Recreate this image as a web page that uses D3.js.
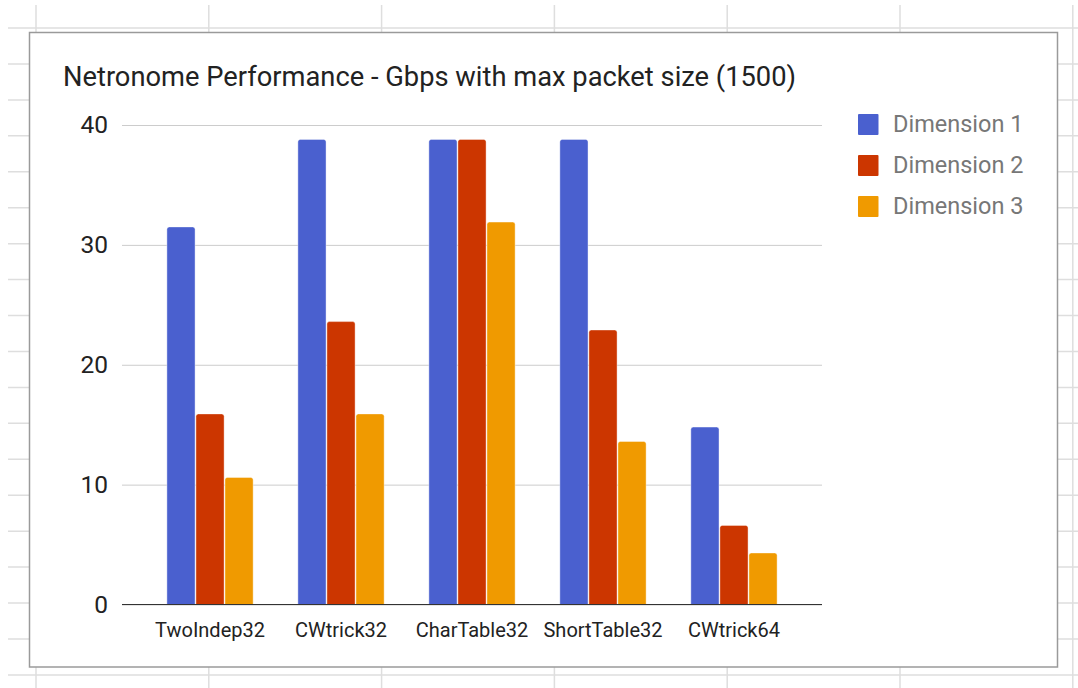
<!DOCTYPE html>
<html>
<head>
<meta charset="utf-8">
<script src="https://cdn.jsdelivr.net/npm/d3@7"></script>
<style>
  html, body { margin: 0; padding: 0; background: #fff; }
  svg { display: block; font-family: Roboto, "Noto Sans", Arial, sans-serif; }
</style>
</head>
<body>
<svg id="chart" width="1078" height="688"></svg>
<script>
// Benchmark names along the x axis
const categories = ["TwoIndep32", "CWtrick32", "CharTable32", "ShortTable32", "CWtrick64"];
// Series names shown in the legend
const seriesNames = ["Dimension 1", "Dimension 2", "Dimension 3"];
// Throughput in Gbps for each series, one value per benchmark
const dimension1 = [31.5, 38.8, 38.8, 38.8, 14.8];
const dimension2 = [15.9, 23.6, 38.8, 22.9, 6.6];
const dimension3 = [10.6, 15.9, 31.9, 13.6, 4.3];
// Y axis ticks
const yTicks = [0, 10, 20, 30, 40];
const titleText = "Netronome Performance - Gbps with max packet size (1500)";

const seriesValues = [dimension1, dimension2, dimension3];
const colors = ["#4a60cf", "#cc3600", "#f09a00"];

const svg = d3.select("#chart");
const W = 1078, H = 688;

// Spreadsheet cell grid behind the chart
const bg = svg.append("g");
const rowH = 35.94, colW = 172.8;
for (let y = 28; y <= H; y += rowH) {
  bg.append("line").attr("x1", 8).attr("x2", W).attr("y1", y).attr("y2", y)
    .attr("stroke", "#dedede").attr("stroke-width", 1.5);
}
for (let x = 36; x <= W; x += colW) {
  bg.append("line").attr("x1", x).attr("x2", x).attr("y1", 5).attr("y2", H)
    .attr("stroke", "#dedede").attr("stroke-width", 1.5);
}

// Chart card
svg.append("rect").attr("x", 29.5).attr("y", 32.5).attr("width", 1028).attr("height", 634.5)
  .attr("fill", "#fff").attr("stroke", "#9a9a9a").attr("stroke-width", 1.5);

// Title
svg.append("text").attr("x", 63).attr("y", 86)
  .attr("font-size", 27.3).attr("fill", "#222").text(titleText);

// Scales
const x0 = d3.scaleBand().domain(categories).range([122, 822]).paddingInner(0).paddingOuter(0.172);
const x1 = d3.scaleBand().domain(d3.range(seriesNames.length)).range([0, x0.bandwidth()])
  .paddingInner(0.03).paddingOuter(0.77);
const y = d3.scaleLinear().domain([0, 40]).range([604.5, 125]);

// Gridlines and y labels
const yAxis = svg.append("g").attr("transform", "translate(122,0)")
  .call(d3.axisLeft(y).tickValues(yTicks).tickSize(-700).tickPadding(14).tickFormat(d3.format("d")));
yAxis.select(".domain").remove();
yAxis.selectAll(".tick line").attr("stroke", "#cccccc").attr("stroke-width", 1);
yAxis.selectAll(".tick text").attr("font-size", 24.5).attr("fill", "#222")
  .attr("font-family", "Roboto, sans-serif");

// Bars, top corners rounded
function barPath(x, w, yTop, yBase, r) {
  const h = yBase - yTop;
  r = Math.min(r, h, w / 2);
  return `M${x},${yBase}V${yTop + r}Q${x},${yTop} ${x + r},${yTop}H${x + w - r}Q${x + w},${yTop} ${x + w},${yTop + r}V${yBase}Z`;
}
const groups = svg.append("g").selectAll("g").data(categories).join("g")
  .attr("transform", d => `translate(${x0(d)},0)`);
groups.selectAll("path")
  .data((d, i) => seriesValues.map((vals, s) => ({ s, v: vals[i] })))
  .join("path")
  .attr("d", d => barPath(x1(d.s), x1.bandwidth(), y(d.v), y(0), 2.5))
  .attr("fill", d => colors[d.s])
  .attr("stroke", "#fff").attr("stroke-opacity", 0.5).attr("stroke-width", 0.8);

// Baseline and category labels
const xAxis = svg.append("g").attr("transform", `translate(0,${y(0)})`)
  .call(d3.axisBottom(x0).tickSize(0).tickPadding(18));
xAxis.select(".domain").attr("d", "M122,0H822").attr("stroke", "#333").attr("stroke-width", 1.2);
xAxis.selectAll(".tick text").attr("font-size", 20).attr("fill", "#222")
  .attr("font-family", "Roboto, sans-serif");

// Legend
const legend = svg.append("g").selectAll("g").data(seriesNames).join("g")
  .attr("transform", (d, i) => `translate(858,${114 + i * 41})`);
legend.append("rect").attr("width", 20.5).attr("height", 21).attr("rx", 1)
  .attr("fill", (d, i) => colors[i]);
legend.append("text").attr("x", 35).attr("y", 18).attr("font-size", 23.5)
  .attr("fill", "#777").text(d => d);
</script>
</body>
</html>
